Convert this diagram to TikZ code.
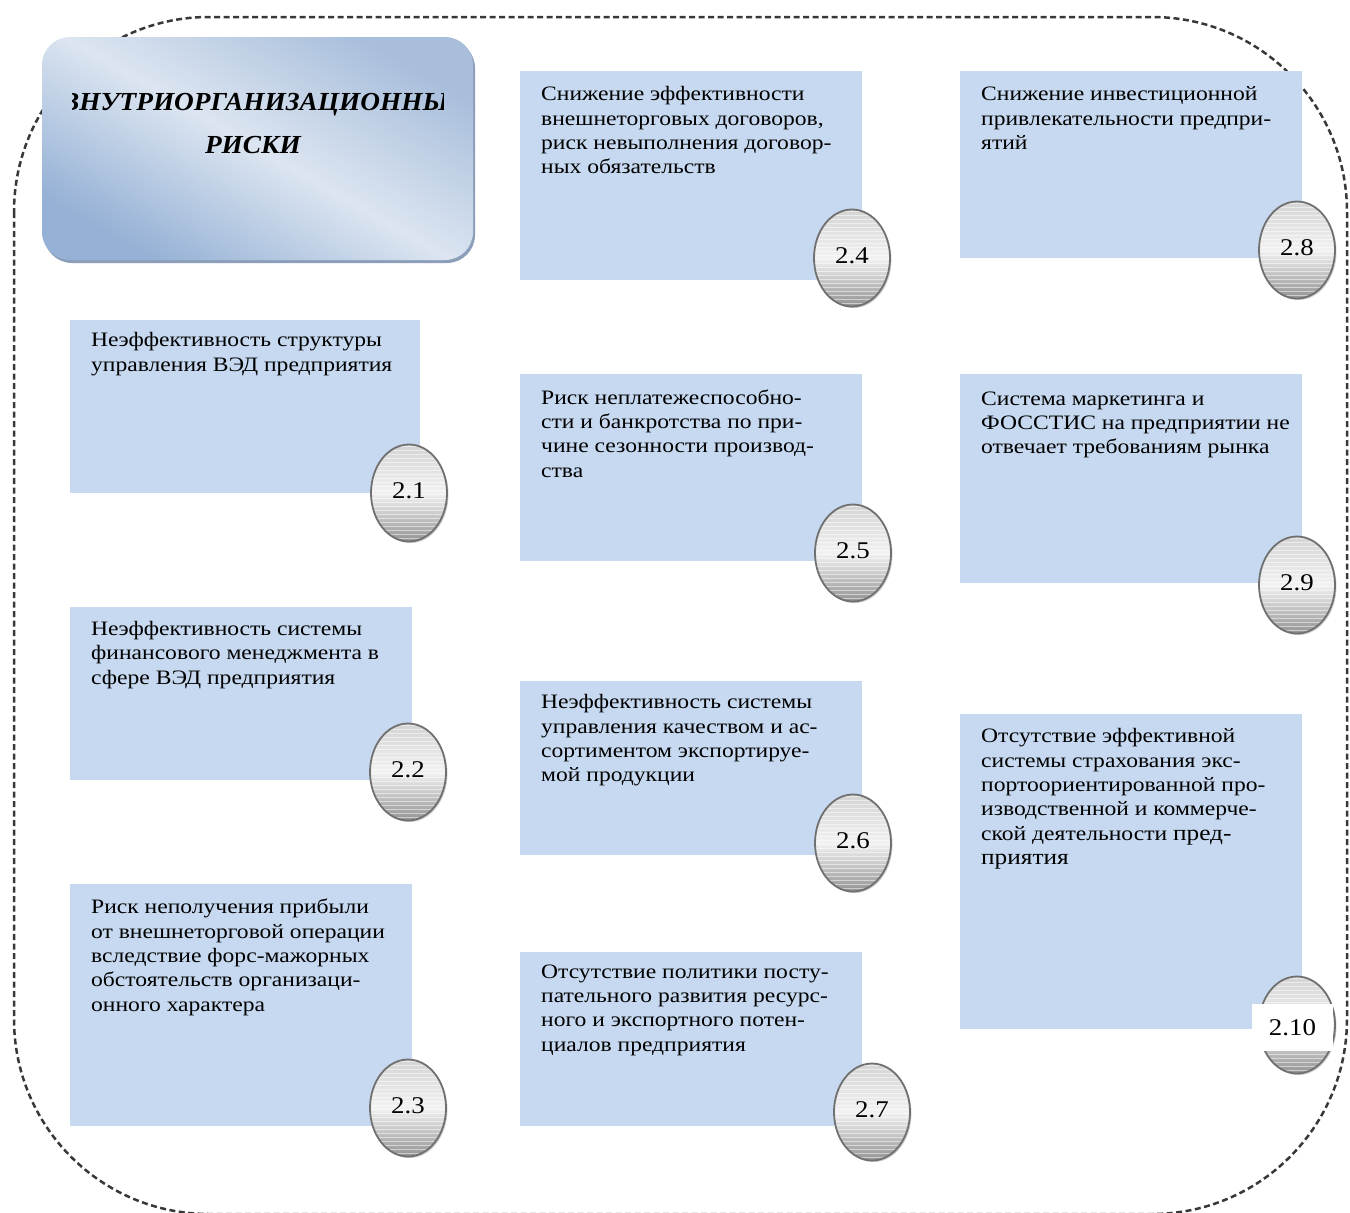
\documentclass[tikz,border=0pt]{standalone}
\usepackage{fontspec}
\setmainfont{Liberation Serif}
\newfontfamily\boxfont[FakeStretch=1.15]{Liberation Serif}
\newfontfamily\numfont[FakeStretch=1.12]{Liberation Serif}
\newfontfamily\headfont[FakeStretch=1.05]{Liberation Serif}
\usetikzlibrary{shapes.geometric,shadows}
\definecolor{boxblue}{HTML}{C6D9F0}
\definecolor{dashgray}{HTML}{383838}
\definecolor{badgeedge}{HTML}{707070}
\definecolor{badgetop}{HTML}{D4D4D4}
\definecolor{badgemid}{HTML}{F2F2F2}
\definecolor{badgebot}{HTML}{939393}
\definecolor{titletop}{HTML}{A8BEDB}
\definecolor{titlemid}{HTML}{DCE5F1}
\definecolor{titlebot}{HTML}{95B1D5}
\definecolor{titleshadow}{HTML}{6F86A8}
\tikzset{
  riskbox/.style={fill=boxblue, draw=none, inner sep=0pt, anchor=north west},
  risktext/.style={anchor=north west, inner sep=0pt, align=left, font=\boxfont\fontsize{20.5}{24.3}\selectfont},
  badge/.style={ellipse, minimum width=76pt, minimum height=97pt, inner sep=0pt,
    draw=badgeedge, line width=1.8pt, top color=badgetop, bottom color=badgebot, middle color=badgemid,
    drop shadow={shadow xshift=1.5pt, shadow yshift=-1.5pt, opacity=0.4},
    path picture={\foreach \k in {2,6,...,98}{\draw[white, opacity=0.5, line width=1pt]
      ([yshift=-\k pt]path picture bounding box.north west) -- ([yshift=-\k pt]path picture bounding box.north east);}},
    font=\numfont\fontsize{24}{24}\selectfont},
  titlebox/.style={rounded corners=28pt, inner sep=0pt, minimum width=431pt, minimum height=223pt,
    top color=titletop, bottom color=titlebot, middle color=titlemid, shading angle=-30,
    drop shadow={shadow xshift=2pt, shadow yshift=-3pt, opacity=0.8, fill=titleshadow}},
  titlefont/.style={inner sep=0pt, font=\headfont\fontsize{26}{30}\selectfont\bfseries\itshape},
  border/.style={draw=dashgray, line width=2.5pt, dash pattern=on 6pt off 3.5pt, rounded corners=195pt}
}
\begin{document}
\begin{tikzpicture}[x=1pt, y=-1pt]
\useasboundingbox (0,0) rectangle (1350,1213);
% dashed frame
\draw[border] (14,17) rectangle (1347,1214);

% boxes
\node[riskbox, minimum width=350pt, minimum height=173pt] (b1) at (70,320) {};
\node[riskbox, minimum width=342pt, minimum height=173pt] (b2) at (70,607) {};
\node[riskbox, minimum width=342pt, minimum height=242pt] (b3) at (70,884) {};
\node[riskbox, minimum width=342pt, minimum height=209pt] (b4) at (520,71) {};
\node[riskbox, minimum width=342pt, minimum height=187pt] (b5) at (520,374) {};
\node[riskbox, minimum width=342pt, minimum height=174pt] (b6) at (520,681) {};
\node[riskbox, minimum width=342pt, minimum height=174pt] (b7) at (520,952) {};
\node[riskbox, minimum width=342pt, minimum height=187pt] (b8) at (960,71) {};
\node[riskbox, minimum width=342pt, minimum height=209pt] (b9) at (960,374) {};
\node[riskbox, minimum width=342pt, minimum height=315pt] (b10) at (960,714) {};

% texts
\node[risktext] (t1) at (91,332.5) {Неэффективность структуры\\управления ВЭД предприятия};
\node[risktext] (t2) at (91,621) {Неэффективность системы\\финансового менеджмента в\\сфере ВЭД предприятия};
\node[risktext] (t3) at (91,899) {Риск неполучения прибыли\\от внешнеторговой операции\\вследствие форс-мажорных\\обстоятельств организаци-\\онного характера};
\node[risktext] (t4) at (541,86.5) {Снижение эффективности\\внешнеторговых договоров,\\риск невыполнения договор-\\ных обязательств};
\node[risktext] (t5) at (541,389.5) {Риск неплатежеспособно-\\сти и банкротства по при-\\чине сезонности производ-\\ства};
\node[risktext] (t6) at (541,694.5) {Неэффективность системы\\управления качеством и ас-\\сортиментом экспортируе-\\мой продукции};
\node[risktext] (t7) at (541,964.5) {Отсутствие политики посту-\\пательного развития ресурс-\\ного и экспортного потен-\\циалов предприятия};
\node[risktext] (t8) at (981,86.5) {Снижение инвестиционной\\привлекательности предпри-\\ятий};
\node[risktext] (t9) at (981,391.5) {Система маркетинга и\\ФОССТИС на предприятии не\\отвечает требованиям рынка};
\node[risktext] (t10) at (981,728.5) {Отсутствие эффективной\\системы страхования экс-\\портоориентированной про-\\изводственной и коммерче-\\ской деятельности {\fontsize{22}{24.3}\selectfont пред-}\\{\fontsize{22}{24.3}\selectfont приятия}};

% badges
\node[badge] (e1) at (409,493) {\raisebox{5pt}{2.1}};
\node[badge] (e2) at (408,772) {\raisebox{5pt}{2.2}};
\node[badge] (e3) at (408,1108) {\raisebox{5pt}{2.3}};
\node[badge] (e4) at (852,258) {\raisebox{5pt}{2.4}};
\node[badge] (e5) at (853,553) {\raisebox{5pt}{2.5}};
\node[badge] (e6) at (853,843) {\raisebox{5pt}{2.6}};
\node[badge] (e7) at (872,1112) {\raisebox{5pt}{2.7}};
\node[badge] (e8) at (1297,250) {\raisebox{5pt}{2.8}};
\node[badge] (e9) at (1297,585) {\raisebox{5pt}{2.9}};
\node[badge] (e10) at (1297,1025) {};
\node[fill=white, inner sep=0pt, minimum width=81pt, minimum height=47pt, font=\numfont\fontsize{24}{24}\selectfont] (l10) at (1292.5,1027.5) {2.10};

% title
\node[titlebox] (title) at (257.5,148.5) {};
\begin{scope}
  \clip (72,60) rectangle (443,240);
  \node[titlefont, anchor=base west] (tt1) at (61,110) {ВНУТРИОРГАНИЗАЦИОННЫЕ};
\end{scope}
\node[titlefont, anchor=base] (tt2) at (253,153) {РИСКИ};
\end{tikzpicture}
\end{document}
